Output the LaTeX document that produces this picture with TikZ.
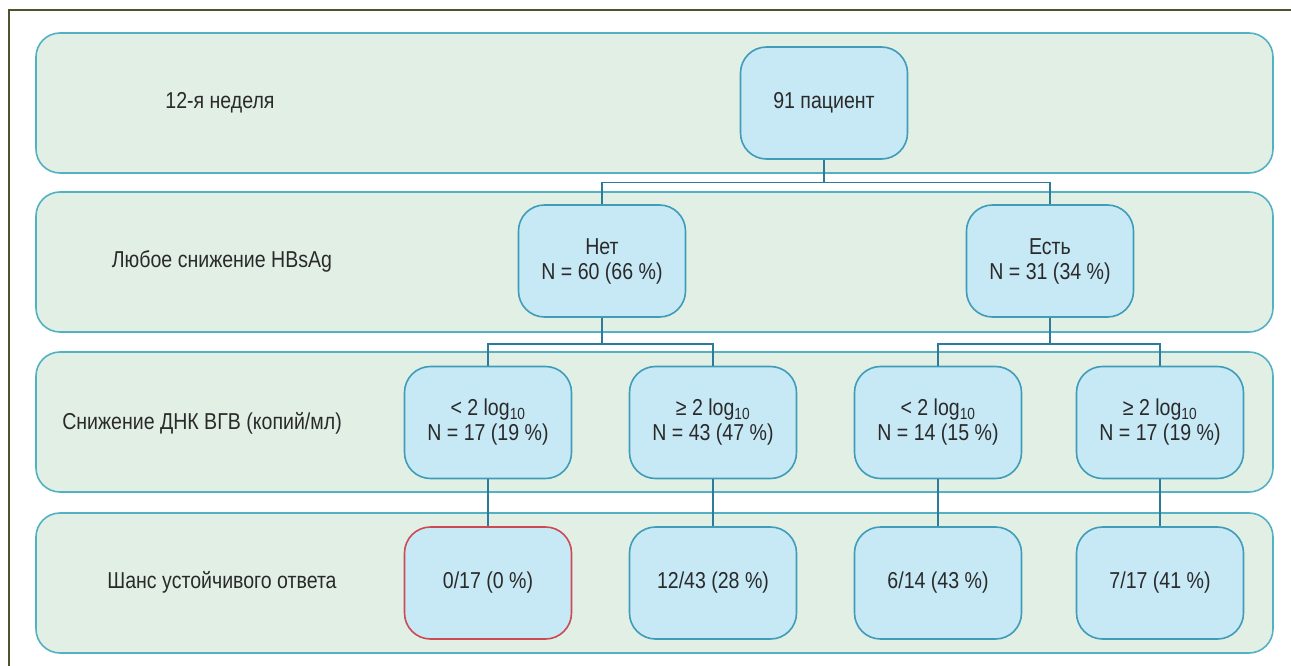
\documentclass[tikz,border=0pt]{standalone}
\usepackage{fontspec}
\setmainfont{Liberation Sans}[FakeStretch=0.85]
\definecolor{bandfill}{HTML}{E2EFE5}
\definecolor{bandline}{HTML}{52B2C4}
\definecolor{boxfill}{HTML}{C7E8F5}
\definecolor{boxline}{HTML}{3F9DBA}
\definecolor{redline}{HTML}{CC4A55}
\definecolor{linkcol}{HTML}{2C7B9C}
\definecolor{framecol}{HTML}{4B5631}
\definecolor{txt}{HTML}{2A2A2A}

\begin{document}
\begin{tikzpicture}[x=1pt,y=-1pt,font=\fontsize{23}{25}\selectfont,
band/.style={draw=bandline, line width=1.6pt, fill=bandfill, rounded corners=24pt,
    minimum width=1237pt, minimum height=140pt, inner sep=0pt},
box/.style={draw=boxline, line width=1.6pt, fill=boxfill, rounded corners=26pt,
    minimum width=167pt, minimum height=112pt, align=center, text=txt, inner sep=0pt},
lbl/.style={text=txt, inner sep=0pt},
link/.style={draw=linkcol, line width=1.4pt}]
\useasboundingbox (0,0) rectangle (1291,666);
\fill[white] (0,0) rectangle (1291,666);
\draw[framecol, line width=2.4pt] (9,10) rectangle (1310,690);

% bands
\node[band] (band1) at (654.5,103) {};
\node[band] (band2) at (654.5,262) {};
\node[band] (band3) at (654.5,422) {};
\node[band] (band4) at (654.5,583) {};

\node[lbl] (week)  at (220,103) {12-я неделя};
\node[lbl] (hbs)   at (222,261) {Любое снижение HBsAg};
\node[lbl] (dnk)   at (202,423) {Снижение ДНК ВГВ (копий/мл)};
\node[lbl] (chance) at (222,582) {Шанс устойчивого ответа};

% tree
\node[box] (all) at (824,103) {91 пациент};
\node[box] (no)  at (602,261) {Нет\\N = 60 (66 \%)};
\node[box] (yes) at (1050,261) {Есть\\N = 31 (34 \%)};

\node[box] (noLow)   at (488,422.5)  {< 2 log\textsubscript{10}\\N = 17 (19 \%)};
\node[box] (noHigh)  at (713,422.5)  {≥ 2 log\textsubscript{10}\\N = 43 (47 \%)};
\node[box] (yesLow)  at (938,422.5)  {< 2 log\textsubscript{10}\\N = 14 (15 \%)};
\node[box] (yesHigh) at (1160,422.5) {≥ 2 log\textsubscript{10}\\N = 17 (19 \%)};

\node[box, draw=redline] (resA) at (488,583)  {0/17 (0 \%)};
\node[box] (resB) at (713,583)  {12/43 (28 \%)};
\node[box] (resC) at (938,583)  {6/14 (43 \%)};
\node[box] (resD) at (1160,583) {7/17 (41 \%)};

\draw[link] (all.south) -- ++(0,23) -| (no.north);
\draw[link] (all.south) -- ++(0,23) -| (yes.north);
\draw[link] (no.south) -- ++(0,26) -| (noLow.north);
\draw[link] (no.south) -- ++(0,26) -| (noHigh.north);
\draw[link] (yes.south) -- ++(0,26) -| (yesLow.north);
\draw[link] (yes.south) -- ++(0,26) -| (yesHigh.north);
\foreach \a/\b in {noLow/resA, noHigh/resB, yesLow/resC, yesHigh/resD}
  \draw[link] (\a.south) -- (\b.north);
\end{tikzpicture}
\end{document}
